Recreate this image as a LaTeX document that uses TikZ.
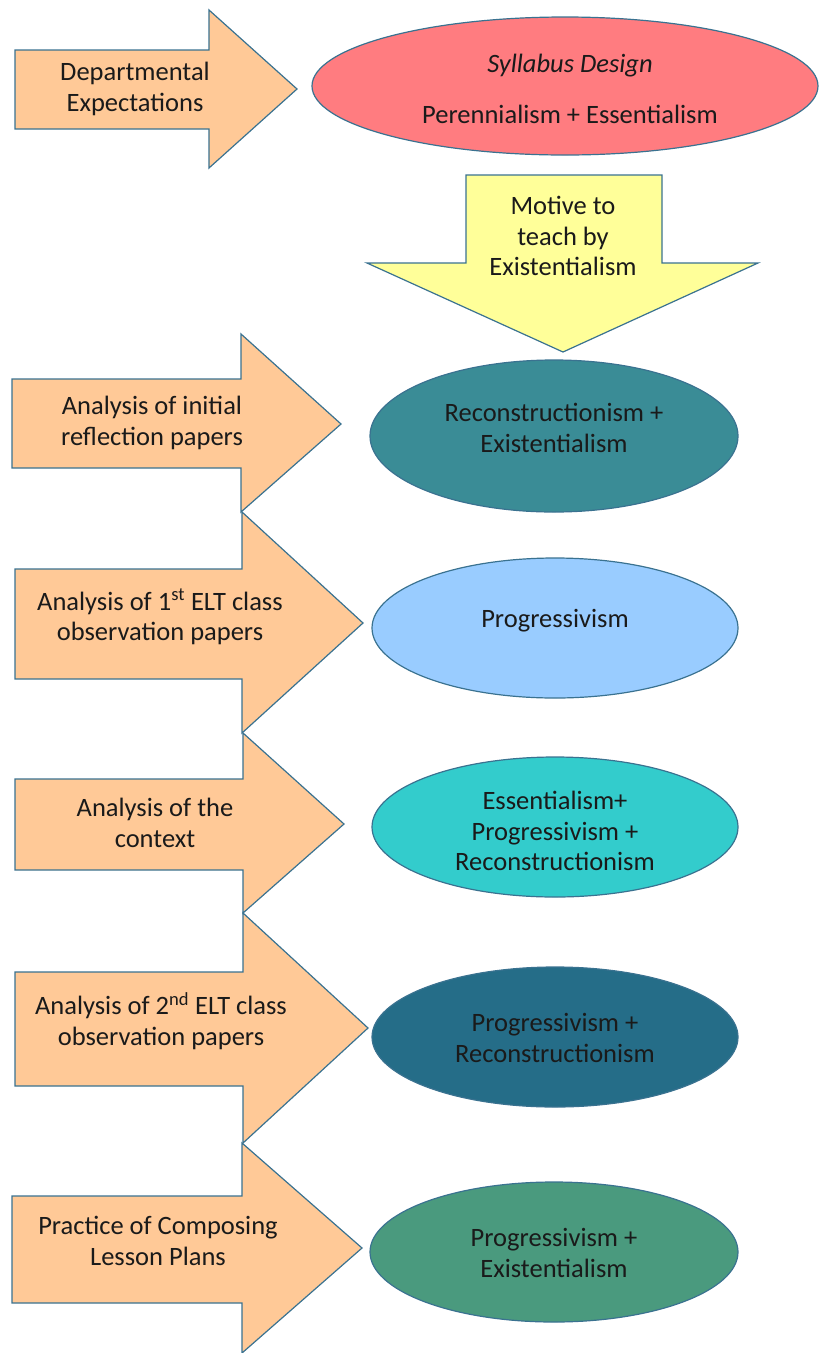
\documentclass[tikz,border=0pt]{standalone}
\usepackage{fontspec}
\setmainfont{Carlito}
\usetikzlibrary{shapes.geometric}
\definecolor{orangefill}{HTML}{FFC997}
\definecolor{outline}{HTML}{3A7290}
\definecolor{redfill}{HTML}{FF7C80}
\definecolor{yellowfill}{HTML}{FFFF99}
\definecolor{tealA}{HTML}{3A8C96}
\definecolor{lightblue}{HTML}{99CCFF}
\definecolor{cyanfill}{HTML}{33CCCC}
\definecolor{darkblue}{HTML}{256D88}
\definecolor{greenfill}{HTML}{4A9A7E}
\definecolor{txt}{HTML}{1A1A1A}
\tikzset{
  blockarrow/.style={fill=orangefill, draw=outline, line width=1.2pt, line join=miter},
  downarrow/.style={fill=yellowfill, draw=outline, line width=1.2pt},
  ell/.style={ellipse, draw=outline, line width=1.2pt, inner sep=0pt},
  lbl/.style={align=center, inner sep=0pt, text=txt, font=\fontsize{26.5}{30.5}\selectfont}
}
\begin{document}
\begin{tikzpicture}[x=1pt,y=-1pt]
\useasboundingbox (0,0) rectangle (819,1353);
% arrows
\draw[blockarrow] (15,50)--(209,50)--(209,10)--(297,89)--(209,168)--(209,129)--(15,129)--cycle;
\draw[downarrow] (466,175)--(662,175)--(662,263)--(758,263)--(563,352)--(367,263)--(466,263)--cycle;
\draw[blockarrow] (12,379)--(241,379)--(241,334)--(341,424)--(241,512)--(241,468)--(12,468)--cycle;
\draw[blockarrow] (15,569)--(242,569)--(242,512)--(363,623)--(242,733)--(242,679)--(15,679)--cycle;
\draw[blockarrow] (15,779)--(243,779)--(243,733)--(344,824)--(243,913)--(243,870)--(15,870)--cycle;
\draw[blockarrow] (15,972)--(243,972)--(243,913)--(368,1028)--(243,1143)--(243,1086)--(15,1086)--cycle;
\draw[blockarrow] (12,1196)--(242,1196)--(242,1143)--(362,1248)--(242,1353)--(242,1303)--(12,1303)--cycle;
% ellipses
\node[ell, fill=redfill, minimum width=506pt, minimum height=138pt] (e1) at (565,86) {};
\node[ell, fill=tealA, minimum width=368pt, minimum height=152pt] (e2) at (554,436) {};
\node[ell, fill=lightblue, minimum width=366pt, minimum height=140pt] (e3) at (555,628) {};
\node[ell, fill=cyanfill, minimum width=366pt, minimum height=140pt] (e4) at (555,827) {};
\node[ell, fill=darkblue, minimum width=366pt, minimum height=140pt] (e5) at (555,1037) {};
\node[ell, fill=greenfill, minimum width=368pt, minimum height=140pt] (e6) at (554,1252) {};
% arrow labels
\node[lbl] (a1) at (135,89) {Departmental\\Expectations};
\node[lbl] (m1) at (563,236) {Motive to\\teach by\\Existentialism};
\node[lbl] (a2) at (152,423) {Analysis of initial\\reflection papers};
\node[lbl] (a3) at (160,617) {Analysis of 1\textsuperscript{st} ELT class\\observation papers};
\node[lbl] (a4) at (155,823) {Analysis of the\\context};
\node[lbl] (a5) at (161,1021) {Analysis of 2\textsuperscript{nd} ELT class\\observation papers};
\node[lbl] (a6) at (158,1241) {Practice of Composing\\Lesson Plans};
% ellipse labels
\node[lbl] (t1a) at (570,66) {\itshape Syllabus Design};
\node[lbl] (t1b) at (570,114) {Perennialism + Essentialism};
\node[lbl] (t2) at (554,428) {Reconstructionism +\\Existentialism};
\node[lbl] (t3) at (555,621) {Progressivism};
\node[lbl] (t4) at (555,831) {Essentialism+\\Progressivism +\\Reconstructionism};
\node[lbl] (t5) at (555,1038) {Progressivism +\\Reconstructionism};
\node[lbl] (t6) at (554,1253) {Progressivism +\\Existentialism};
\end{tikzpicture}
\end{document}
